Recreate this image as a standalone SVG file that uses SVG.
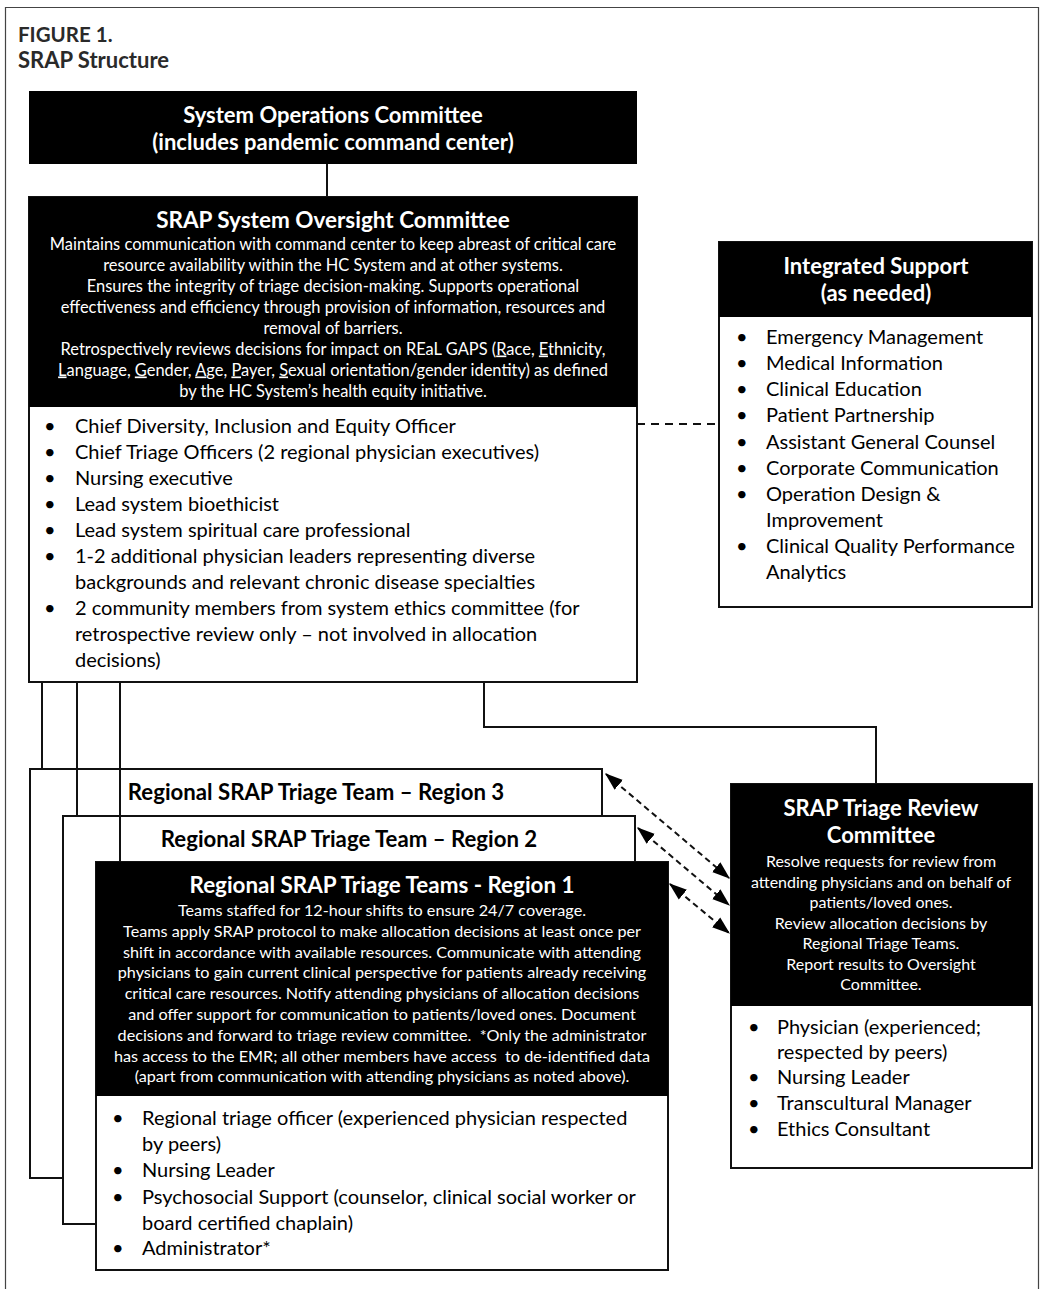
<svg xmlns="http://www.w3.org/2000/svg" width="1045" height="1289" viewBox="0 0 1045 1289">
<defs>
<style>
text{font-family:Lato,"Liberation Sans",sans-serif}
.frame{fill:none;stroke:#444;stroke-width:1.2}
.blk{fill:#000}
.box{fill:#fff;stroke:#111;stroke-width:2}
.ttl{font-weight:700;fill:#fff;text-anchor:middle}
.cap{font-weight:700;fill:#2a2a2a}
.desc{font-size:16px;fill:#fff;text-anchor:middle}
.bul{font-size:20px;fill:#000}
.rt{font-weight:700;fill:#000;text-anchor:middle;font-size:22.2px}
.ln{fill:none;stroke:#111;stroke-width:2}
.dash{fill:none;stroke:#111;stroke-width:2;stroke-dasharray:8 6}
.arr{fill:none;stroke:#111;stroke-width:2;stroke-dasharray:6 4;marker-start:url(#ah);marker-end:url(#ah)}
.u{text-decoration:underline}
</style>
<marker id="ah" viewBox="0 0 14 10" refX="13" refY="5" markerWidth="18" markerHeight="13" orient="auto-start-reverse" markerUnits="userSpaceOnUse">
<path d="M0,0 L14,5 L0,10 z" fill="#000"/>
</marker>
</defs>
<rect width="1045" height="1289" fill="#fff"/>
<path class="frame" d="M5.5,1289 V7.5 H1038.5 V1289"/>
<g id="caption">
<text class="cap" x="18" y="42" font-size="20.5">FIGURE 1.</text>
<text class="cap" x="18" y="68" font-size="22">SRAP Structure</text>
</g>
<g id="region3">
<rect class="box" x="30" y="769" width="572" height="409"/>
<text class="rt" x="316" y="800">Regional SRAP Triage Team – Region 3</text>
</g>
<g id="region2">
<rect class="box" x="63" y="816" width="572" height="408"/>
<text class="rt" x="349" y="847">Regional SRAP Triage Team – Region 2</text>
</g>
<g id="connectors">
<line class="ln" x1="327" y1="164" x2="327" y2="197"/>
<line class="ln" x1="42" y1="682" x2="42" y2="769"/>
<line class="ln" x1="77" y1="682" x2="77" y2="816"/>
<line class="ln" x1="120" y1="682" x2="120" y2="862"/>
<path class="ln" d="M484,682 V727 H876 V784"/>
<line class="dash" x1="637" y1="424" x2="719" y2="424"/>
<line class="arr" x1="606" y1="774" x2="729" y2="878"/>
<line class="arr" x1="638" y1="828" x2="729" y2="905"/>
<line class="arr" x1="670" y1="884" x2="729" y2="933"/>
</g>
<g id="ops">
<rect class="blk" x="29" y="91" width="608" height="73"/>
<text class="ttl" x="333" y="123" font-size="22">System Operations Committee</text>
<text class="ttl" x="333" y="150" font-size="22">(includes pandemic command center)</text>
</g>
<g id="oversight">
<rect class="box" x="29" y="197" width="608" height="485"/>
<rect class="blk" x="29" y="197" width="608" height="210"/>
<text class="ttl" x="333" y="228" font-size="22.5">SRAP System Oversight Committee</text>
<text class="desc" x="333" y="249.5" style="font-size:16.45px">Maintains communication with command center to keep abreast of critical care</text>
<text class="desc" x="333" y="270.5" style="font-size:16.45px">resource availability within the HC System and at other systems.</text>
<text class="desc" x="333" y="291.5" style="font-size:16.45px">Ensures the integrity of triage decision-making. Supports operational</text>
<text class="desc" x="333" y="312.5" style="font-size:16.45px">effectiveness and efficiency through provision of information, resources and</text>
<text class="desc" x="333" y="333.5" style="font-size:16.45px">removal of barriers.</text>
<text class="desc" x="333" y="354.5" style="font-size:16.45px">Retrospectively reviews decisions for impact on REaL GAPS (<tspan class="u">R</tspan>ace, <tspan class="u">E</tspan>thnicity,</text>
<text class="desc" x="333" y="375.5" style="font-size:16.45px"><tspan class="u">L</tspan>anguage, <tspan class="u">G</tspan>ender, <tspan class="u">A</tspan>ge, <tspan class="u">P</tspan>ayer, <tspan class="u">S</tspan>exual orientation/gender identity) as defined</text>
<text class="desc" x="333" y="396.5" style="font-size:16.45px">by the HC System’s health equity initiative.</text>
<g class="bul">
<text x="44" y="433">•</text><text x="75" y="433">Chief Diversity, Inclusion and Equity Officer</text>
<text x="44" y="459">•</text><text x="75" y="459">Chief Triage Officers (2 regional physician executives)</text>
<text x="44" y="485">•</text><text x="75" y="485">Nursing executive</text>
<text x="44" y="511">•</text><text x="75" y="511">Lead system bioethicist</text>
<text x="44" y="537">•</text><text x="75" y="537">Lead system spiritual care professional</text>
<text x="44" y="563">•</text><text x="75" y="563">1-2 additional physician leaders representing diverse</text>
<text x="75" y="589">backgrounds and relevant chronic disease specialties</text>
<text x="44" y="615">•</text><text x="75" y="615">2 community members from system ethics committee (for</text>
<text x="75" y="641">retrospective review only – not involved in allocation</text>
<text x="75" y="667">decisions)</text>
</g>
</g>
<g id="integrated">
<rect class="box" x="719" y="242" width="313" height="365"/>
<rect class="blk" x="719" y="242" width="313" height="75"/>
<text class="ttl" x="876" y="274" font-size="22">Integrated Support</text>
<text class="ttl" x="876" y="301" font-size="22">(as needed)</text>
<g class="bul">
<text x="736" y="344">•</text><text x="766" y="344">Emergency Management</text>
<text x="736" y="370">•</text><text x="766" y="370">Medical Information</text>
<text x="736" y="396">•</text><text x="766" y="396">Clinical Education</text>
<text x="736" y="422">•</text><text x="766" y="422">Patient Partnership</text>
<text x="736" y="449">•</text><text x="766" y="449">Assistant General Counsel</text>
<text x="736" y="475">•</text><text x="766" y="475">Corporate Communication</text>
<text x="736" y="501">•</text><text x="766" y="501">Operation Design &amp;</text>
<text x="766" y="527">Improvement</text>
<text x="736" y="553">•</text><text x="766" y="553">Clinical Quality Performance</text>
<text x="766" y="579">Analytics</text>
</g>
</g>
<g id="region1">
<rect class="box" x="96" y="862" width="572" height="408"/>
<rect class="blk" x="96" y="862" width="572" height="234"/>
<text class="ttl" x="382" y="893" font-size="22.4">Regional SRAP Triage Teams - Region 1</text>
<text class="desc" x="382" y="916" style="font-size:16.2px">Teams staffed for 12-hour shifts to ensure 24/7 coverage.</text>
<text class="desc" x="382" y="937" style="font-size:16.2px">Teams apply SRAP protocol to make allocation decisions at least once per</text>
<text class="desc" x="382" y="958" style="font-size:16.2px">shift in accordance with available resources. Communicate with attending</text>
<text class="desc" x="382" y="978" style="font-size:16.2px">physicians to gain current clinical perspective for patients already receiving</text>
<text class="desc" x="382" y="999" style="font-size:16.2px">critical care resources. Notify attending physicians of allocation decisions</text>
<text class="desc" x="382" y="1020" style="font-size:16.2px">and offer support for communication to patients/loved ones. Document</text>
<text class="desc" x="382" y="1041" style="font-size:16.2px">decisions and forward to triage review committee.&#160; *Only the administrator</text>
<text class="desc" x="382" y="1062" style="font-size:16.2px">has access to the EMR; all other members have access&#160; to de-identified data</text>
<text class="desc" x="382" y="1082" style="font-size:16.2px">(apart from communication with attending physicians as noted above).</text>
<g class="bul">
<text x="112" y="1125">•</text><text x="142" y="1125">Regional triage officer (experienced physician respected</text>
<text x="142" y="1151">by peers)</text>
<text x="112" y="1177">•</text><text x="142" y="1177">Nursing Leader</text>
<text x="112" y="1204">•</text><text x="142" y="1204">Psychosocial Support (counselor, clinical social worker or</text>
<text x="142" y="1230">board certified chaplain)</text>
<text x="112" y="1255">•</text><text x="142" y="1255">Administrator*</text>
</g>
</g>
<g id="review">
<rect class="box" x="731" y="784" width="301" height="384"/>
<rect class="blk" x="731" y="784" width="301" height="222"/>
<text class="ttl" x="881" y="816" font-size="22">SRAP Triage Review</text>
<text class="ttl" x="881" y="843" font-size="22">Committee</text>
<text class="desc" x="881" y="867">Resolve requests for review from</text>
<text class="desc" x="881" y="887.5">attending physicians and on behalf of</text>
<text class="desc" x="881" y="908">patients/loved ones.</text>
<text class="desc" x="881" y="928.5">Review allocation decisions by</text>
<text class="desc" x="881" y="949">Regional Triage Teams.</text>
<text class="desc" x="881" y="969.5">Report results to Oversight</text>
<text class="desc" x="881" y="990">Committee.</text>
<g class="bul">
<text x="748" y="1034">•</text><text x="777" y="1034">Physician (experienced;</text>
<text x="777" y="1059">respected by peers)</text>
<text x="748" y="1084">•</text><text x="777" y="1084">Nursing Leader</text>
<text x="748" y="1110">•</text><text x="777" y="1110">Transcultural Manager</text>
<text x="748" y="1136">•</text><text x="777" y="1136">Ethics Consultant</text>
</g>
</g>
</svg>
